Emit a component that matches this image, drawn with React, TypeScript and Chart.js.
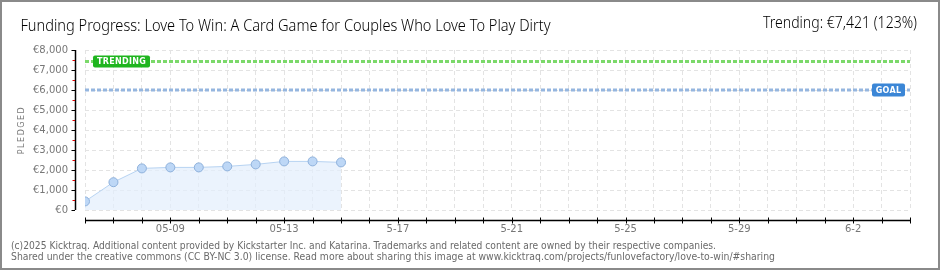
import React, { useEffect, useRef } from "react";
import { Chart, registerables } from "chart.js";

Chart.register(...registerables);

// ---- data ----
const dayCount = 30; // 05-06 .. 06-04
const pledgedDays = [0, 1, 2, 3, 4, 5, 6, 7, 8, 9];
const pledgedValues = [430, 1390, 2080, 2130, 2130, 2180, 2280, 2430, 2430, 2380];
const trendingValue = 7421;
const goalValue = 6000;
const xTickIndex = [3, 7, 11, 15, 19, 23, 27];
const xTickText = ["05-09", "05-13", "5-17", "5-21", "5-25", "5-29", "6-2"];
const yMax = 8000;
const yStep = 1000;

const titleLeft = "Funding Progress: Love To Win: A Card Game for Couples Who Love To Play Dirty";
const titleRight = "Trending: \u20ac7,421 (123%)";
const footer1 =
  "(c)2025 Kicktraq. Additional content provided by Kickstarter Inc. and Katarina. Trademarks and related content are owned by their respective companies.";
const footer2 =
  "Shared under the creative commons (CC BY-NC 3.0) license. Read more about sharing this image at www.kicktraq.com/projects/funlovefactory/love-to-win/#sharing";

function fitText(
  ctx: CanvasRenderingContext2D,
  text: string,
  x: number,
  y: number,
  width: number,
  font: string,
  color: string,
  align: "left" | "right"
) {
  ctx.save();
  ctx.font = font;
  ctx.fillStyle = color;
  ctx.textBaseline = "alphabetic";
  ctx.textAlign = "left";
  const m = ctx.measureText(text).width;
  const s = width / m;
  ctx.translate(align === "right" ? x - width : x, y);
  ctx.scale(s, 1);
  ctx.fillText(text, 0, 0);
  ctx.restore();
}

function badge(
  ctx: CanvasRenderingContext2D,
  text: string,
  x: number,
  yc: number,
  w: number,
  h: number,
  color: string
) {
  ctx.save();
  ctx.fillStyle = color;
  ctx.beginPath();
  (ctx as any).roundRect(x, yc - h / 2, w, h, 2);
  ctx.fill();
  ctx.fillStyle = "#ffffff";
  ctx.font = 'bold 8px "DejaVu Sans"';
  (ctx as any).letterSpacing = "0.3px";
  ctx.textAlign = "center";
  ctx.textBaseline = "middle";
  ctx.fillText(text, x + w / 2, yc + 0.5);
  ctx.restore();
}

const decorPlugin = {
  id: "decor",
  beforeDraw(chart: any) {
    const ctx = chart.ctx as CanvasRenderingContext2D;
    ctx.save();
    ctx.fillStyle = "#ffffff";
    ctx.fillRect(0, 0, chart.width, chart.height);
    ctx.restore();
  },
  afterDraw(chart: any) {
    const ctx = chart.ctx as CanvasRenderingContext2D;
    const xs = chart.scales.x;
    const ys = chart.scales.y;
    const area = chart.chartArea;

    // axis lines
    ctx.save();
    const ax = Math.round(area.left - 10) + 0.5;
    ctx.strokeStyle = "#000";
    ctx.lineWidth = 1.5;
    ctx.beginPath();
    ctx.moveTo(ax, ys.getPixelForValue(yMax));
    ctx.lineTo(ax, ys.getPixelForValue(0));
    ctx.stroke();
    for (let v = 0; v <= yMax; v += yStep / 2) {
      const py = Math.round(ys.getPixelForValue(v)) + 0.5;
      ctx.strokeStyle = v % yStep === 0 ? "#000" : "#e00000";
      ctx.lineWidth = 1;
      ctx.beginPath();
      ctx.moveTo(ax - (v % yStep === 0 ? 4 : 3), py);
      ctx.lineTo(ax - 0.5, py);
      ctx.stroke();
    }
    const axY = Math.round(area.bottom + 10) + 0.5;
    ctx.strokeStyle = "#000";
    ctx.lineWidth = 1.5;
    ctx.beginPath();
    ctx.moveTo(xs.getPixelForValue(0), axY);
    ctx.lineTo(xs.getPixelForValue(dayCount - 1), axY);
    ctx.stroke();
    ctx.lineWidth = 1;
    for (let d = 0; d < dayCount; d++) {
      const px = Math.round(xs.getPixelForValue(d)) + 0.5;
      ctx.beginPath();
      ctx.moveTo(px, axY - 3);
      ctx.lineTo(px, axY + 3);
      ctx.stroke();
    }
    ctx.restore();

    // y title
    ctx.save();
    ctx.translate(21.5, (area.top + area.bottom) / 2);
    ctx.rotate(-Math.PI / 2);
    ctx.font = '8px "DejaVu Sans"';
    (ctx as any).letterSpacing = "1.5px";
    ctx.fillStyle = "#7a7a7a";
    ctx.textAlign = "center";
    ctx.textBaseline = "middle";
    ctx.fillText("PLEDGED", 0, 0);
    ctx.restore();

    // badges
    badge(ctx, "TRENDING", area.left + 8, ys.getPixelForValue(trendingValue), 57, 12, "#1fb51f");
    badge(ctx, "GOAL", area.right - 38, ys.getPixelForValue(goalValue), 33, 13, "#3b86d6");

    // titles
    fitText(ctx, titleLeft, 20.5, 30.5, 530, '300 16px "Noto Sans"', "#000", "left");
    fitText(ctx, titleRight, 917, 27.5, 154, '300 16px "Noto Sans"', "#000", "right");

    // footer
    fitText(ctx, footer1, 11, 249, 705, '10px "DejaVu Sans"', "#6a6a6a", "left");
    fitText(ctx, footer2, 11, 259.5, 764, '10px "DejaVu Sans"', "#6a6a6a", "left");

    // frame
    ctx.save();
    ctx.strokeStyle = "#8a8a8a";
    ctx.lineWidth = 2;
    ctx.strokeRect(1, 1, chart.width - 2, chart.height - 2);
    ctx.restore();
  },
};

export default function App() {
  const ref = useRef<HTMLCanvasElement | null>(null);
  useEffect(() => {
    document.body.style.margin = "0";
    if (!ref.current) return;
    const pledged = pledgedDays.map((d, i) => ({ x: d, y: pledgedValues[i] }));
    const chart = new Chart(ref.current, {
      type: "line",
      data: {
        datasets: [
          {
            data: [
              { x: 0, y: trendingValue },
              { x: dayCount - 1, y: trendingValue },
            ],
            borderColor: "#7bd96a",
            borderWidth: 3,
            borderDash: [4, 2],
            pointRadius: 0,
            fill: false,
          },
          {
            data: [
              { x: 0, y: goalValue },
              { x: dayCount - 1, y: goalValue },
            ],
            borderColor: "#95b6df",
            borderWidth: 3,
            borderDash: [4, 2],
            pointRadius: 0,
            fill: false,
          },
          {
            data: pledged,
            borderColor: "#b7d3f2",
            borderWidth: 1,
            backgroundColor: "rgba(226,238,252,0.7)",
            fill: "origin",
            tension: 0,
            pointRadius: 4.5,
            pointBackgroundColor: "#bdd7f6",
            pointBorderColor: "#8eb1dc",
            pointBorderWidth: 1,
          },
        ],
      },
      options: {
        animation: false,
        responsive: false,
        events: [],
        layout: { padding: { left: 0, top: 50, right: 30, bottom: 30 } },
        plugins: { legend: { display: false }, tooltip: { enabled: false }, title: { display: false } },
        scales: {
          x: {
            type: "linear",
            min: 0,
            max: dayCount - 1,
            afterFit: (s: any) => {
              s.height = 30;
            },
            grid: { color: "#e3e3e3", drawTicks: false, lineWidth: 1 },
            border: { display: false, dash: [4, 3] },
            ticks: {
              stepSize: 1,
              autoSkip: false,
              maxRotation: 0,
              padding: 13,
              color: "#777",
              font: { family: "DejaVu Sans", size: 10 },
              callback: (v: any) => {
                const i = xTickIndex.indexOf(Number(v));
                return i >= 0 ? xTickText[i] : "";
              },
            },
          },
          y: {
            min: 0,
            max: yMax,
            afterFit: (s: any) => {
              s.width = 85;
            },
            grid: { color: "#e3e3e3", drawTicks: false, lineWidth: 1 },
            border: { display: false, dash: [4, 3] },
            ticks: {
              stepSize: yStep,
              padding: 17,
              color: "#777",
              font: { family: "DejaVu Sans", size: 10 },
              callback: (v: any) => "\u20ac" + Number(v).toLocaleString("en-US"),
            },
          },
        },
      },
      plugins: [decorPlugin],
    } as any);
    return () => chart.destroy();
  }, []);
  return <canvas ref={ref} width={940} height={270} style={{ display: "block" }} />;
}
